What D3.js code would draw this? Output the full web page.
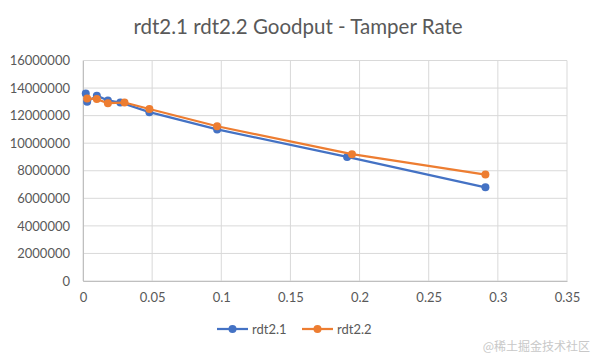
<!DOCTYPE html>
<html><head><meta charset="utf-8">
<script src="https://cdn.jsdelivr.net/npm/d3@7"></script>
<style>body{margin:0;background:#fff}svg{display:block}</style>
</head><body>
<svg id="c" width="596" height="357"></svg>
<script>
const title = "rdt2.1 rdt2.2 Goodput - Tamper Rate";
const seriesNames = ["rdt2.1", "rdt2.2"];
const colors = ["#4472C4", "#ED7D31"];
const x21 = [0.002, 0.003, 0.01, 0.018, 0.027, 0.048, 0.097, 0.191, 0.291];
const y21 = [13600000, 13000000, 13450000, 13100000, 12950000, 12250000, 11000000, 9000000, 6800000];
const x22 = [0.003, 0.01, 0.018, 0.03, 0.048, 0.097, 0.1945, 0.291];
const y22 = [13250000, 13200000, 12900000, 12950000, 12480000, 11230000, 9200000, 7720000];
const xTicks = [0, 0.05, 0.1, 0.15, 0.2, 0.25, 0.3, 0.35];
const yTicks = [0, 2000000, 4000000, 6000000, 8000000, 10000000, 12000000, 14000000, 16000000];
const watermark = "@稀土掘金技术社区";

const svg = d3.select("#c");
const font = "Lato, 'Open Sans', sans-serif";
const x = d3.scaleLinear().domain([0, 0.35]).range([83, 567]);
const y = d3.scaleLinear().domain([0, 16000000]).range([281, 60.5]);

// gridlines
svg.append("g").selectAll("line.h").data(yTicks).join("line")
  .attr("x1", 83).attr("x2", 567).attr("y1", d => y(d)).attr("y2", d => y(d))
  .attr("stroke", "#d9d9d9").attr("stroke-width", 1);
svg.append("g").selectAll("line.v").data(xTicks).join("line")
  .attr("y1", 60.5).attr("y2", 281).attr("x1", d => x(d)).attr("x2", d => x(d))
  .attr("stroke", "#d9d9d9").attr("stroke-width", 1);

// axes
const xa = svg.append("g").attr("transform", "translate(0,281)")
  .call(d3.axisBottom(x).tickValues(xTicks).tickSize(0).tickPadding(12).tickFormat(d => String(d)));
const ya = svg.append("g").attr("transform", "translate(83,0)")
  .call(d3.axisLeft(y).tickValues(yTicks).tickSize(0).tickPadding(13).tickFormat(d => String(d)));
[xa, ya].forEach(a => {
  a.select(".domain").attr("stroke", "#bfbfbf");
  a.selectAll("text").attr("fill", "#595959").style("font-family", font).style("font-size", "13px");
});

// series
const data = [x21.map((v, i) => [v, y21[i]]), x22.map((v, i) => [v, y22[i]])];
const line = d3.line().x(d => x(d[0])).y(d => y(d[1]));
data.forEach((pts, k) => {
  svg.append("path").datum(pts).attr("d", line).attr("fill", "none")
    .attr("stroke", colors[k]).attr("stroke-width", 2.25).attr("stroke-linejoin", "round");
  svg.append("g").selectAll("circle").data(pts).join("circle")
    .attr("cx", d => x(d[0])).attr("cy", d => y(d[1])).attr("r", 4)
    .attr("fill", colors[k]);
});

// title
svg.append("text").attr("x", 298).attr("y", 34).attr("text-anchor", "middle")
  .attr("fill", "#595959").style("font-family", font).style("font-size", "20.5px").text(title);

// legend
const lg = [[217, 252], [302, 337]];
seriesNames.forEach((n, k) => {
  const [lx, tx] = lg[k];
  svg.append("line").attr("x1", lx).attr("x2", lx + 31).attr("y1", 329).attr("y2", 329)
    .attr("stroke", colors[k]).attr("stroke-width", 2.25);
  svg.append("circle").attr("cx", lx + 15.5).attr("cy", 329).attr("r", 4).attr("fill", colors[k]);
  svg.append("text").attr("x", tx).attr("y", 334).attr("fill", "#595959")
    .style("font-family", font).style("font-size", "13px").text(n);
});

// watermark
svg.append("text").attr("x", 590).attr("y", 351).attr("text-anchor", "end")
  .attr("fill", "#c8c8c8").style("font-family", "'Noto Sans CJK SC', sans-serif").style("font-size", "12px").text(watermark);
</script>
</body></html>
